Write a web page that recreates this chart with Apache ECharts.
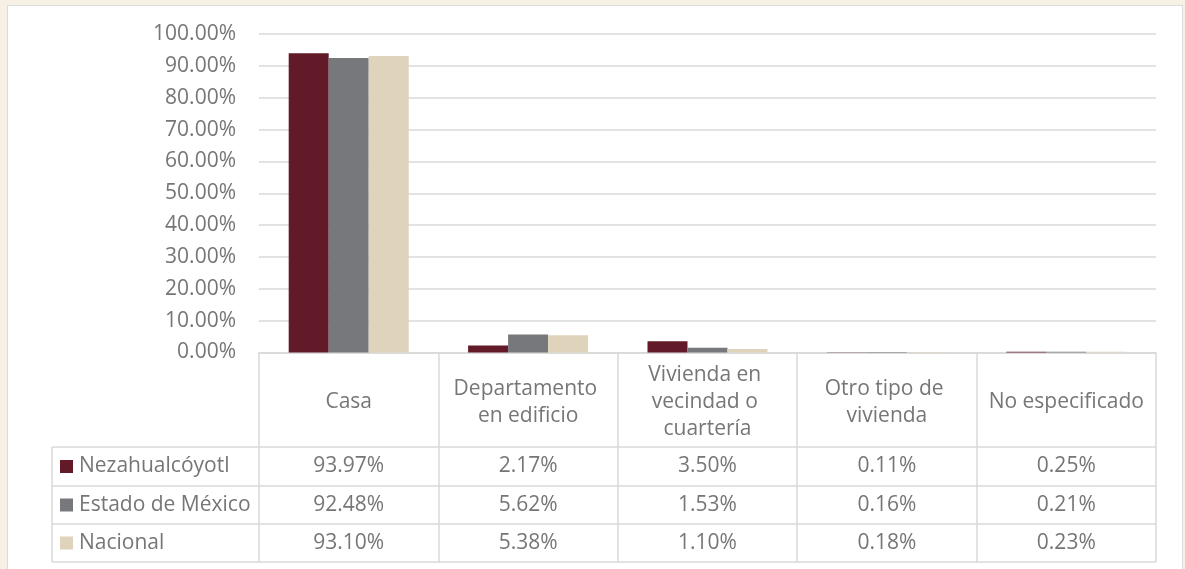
<!DOCTYPE html>
<html>
<head>
<meta charset="utf-8">
<script src="https://cdn.jsdelivr.net/npm/echarts@6/dist/echarts.min.js"></script>
<style>
  html, body { margin: 0; padding: 0; }
  #wrap { position: relative; width: 1185px; height: 569px; background: #f6f1e4; overflow: hidden; }
  #panel { position: absolute; left: 7px; top: 5px; width: 1174px; height: 580px; background: #fff; border: 1px solid #dcdcdc; }
  #chart { position: absolute; left: 0; top: 0; width: 1185px; height: 569px; }
</style>
</head>
<body>
<div id="wrap">
  <div id="panel"></div>
  <div id="chart"></div>
</div>
<script>
// tipos de vivienda
const categories = ['Casa', 'Departamento en edificio', 'Vivienda en vecindad o cuartería', 'Otro tipo de vivienda', 'No especificado']
const seriesNames = ['Nezahualcóyotl', 'Estado de México', 'Nacional']
const nezahualcoyotl = [93.97, 2.17, 3.50, 0.11, 0.25]
const estadoMexico = [92.48, 5.62, 1.53, 0.16, 0.21]
const nacional = [93.10, 5.38, 1.10, 0.18, 0.23]
const yTicks = [0, 10, 20, 30, 40, 50, 60, 70, 80, 90, 100]

const colors = ['#621a28', '#76787b', '#dfd3bb']
const textColor = '#767676'
const lineColor = '#d9d9d9'
const font = 'Open Sans'
const fontSize = 21

const rows = [nezahualcoyotl, estadoMexico, nacional]
const axisY = 352.5 // linea del 0%
const rowCenters = [466.5, 505, 543]

const chart = echarts.init(document.getElementById('chart'))

// ejes extra para las filas de la tabla
const rowAxes = rows.map((row, k) => ({
  type: 'category',
  data: categories,
  position: 'bottom',
  offset: rowCenters[k] - axisY,
  axisLine: { show: false },
  axisTick: { show: false },
  axisLabel: {
    interval: 0,
    margin: 0,
    verticalAlign: 'middle',
    color: textColor,
    fontSize: fontSize,
    fontFamily: font,
    formatter: (v, i) => row[i].toFixed(2) + '%'
  }
}))

// una leyenda por fila de la tabla
const legends = seriesNames.map((name, k) => ({
  data: [name],
  left: 60,
  top: rowCenters[k] - 10.5,
  itemWidth: 13,
  itemHeight: 13,
  icon: 'rect',
  padding: 0,
  selectedMode: false,
  textStyle: { color: textColor, fontSize: fontSize, fontFamily: font, padding: [0, 0, 0, 1] }
}))

const options = {
  animation: false,
  color: colors,
  legend: legends,
  grid: { left: 259, right: 29, top: 34, bottom: 569 - axisY },
  xAxis: [
    {
      type: 'category',
      data: categories,
      axisLine: { show: true, lineStyle: { color: lineColor, width: 1.5 } },
      axisTick: { show: true, interval: 0, length: 562 - axisY, lineStyle: { color: lineColor, width: 1.5 } },
      axisLabel: {
        interval: 0,
        margin: 50,
        verticalAlign: 'middle',
        color: textColor,
        fontSize: fontSize,
        fontFamily: font,
        lineHeight: 27,
        width: 168,
        overflow: 'break'
      }
    },
    ...rowAxes
  ],
  yAxis: {
    type: 'value',
    min: yTicks[0],
    max: yTicks[yTicks.length - 1],
    interval: 10,
    axisLine: { show: false },
    axisTick: { show: false },
    splitLine: { lineStyle: { color: lineColor, width: 1.5 } },
    axisLabel: {
      margin: 23,
      color: textColor,
      fontSize: fontSize,
      fontFamily: font,
      formatter: (v) => v.toFixed(2) + '%'
    }
  },
  series: seriesNames.map((name, k) => ({
    name: name,
    type: 'bar',
    data: rows[k],
    barWidth: 40,
    barGap: '0%'
  })),
  graphic: [
    // bordes de la tabla (columna de leyenda y filas)
    ...[447, 486, 524, 562].map((y) => ({
      type: 'line',
      shape: { x1: 52, y1: y, x2: 1156, y2: y },
      style: { stroke: lineColor, lineWidth: 1.5 }
    })),
    {
      type: 'line',
      shape: { x1: 52, y1: 447, x2: 52, y2: 562 },
      style: { stroke: lineColor, lineWidth: 1.5 }
    }
  ]
}

chart.setOption(options)
</script>
</body>
</html>
